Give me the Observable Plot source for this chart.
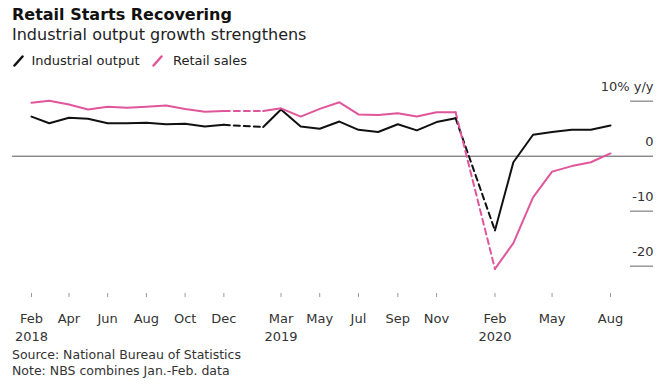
<!DOCTYPE html>
<html><head><meta charset="utf-8">
<script src="https://cdn.jsdelivr.net/npm/d3@7"></script>
<script src="https://cdn.jsdelivr.net/npm/@observablehq/plot@0.6"></script>
<style>
body{margin:0;background:#fff;font-family:"DejaVu Sans",sans-serif;}
#wrap{position:relative;width:670px;height:386px;overflow:hidden;background:#fff;}
.t{position:absolute;white-space:nowrap;line-height:1;}
</style></head><body>
<div id="wrap">
<div class="t" style="left:12px;top:7px;font-size:16px;font-weight:bold;color:#111">Retail Starts Recovering</div>
<div class="t" style="left:12px;top:26.5px;font-size:16px;color:#222">Industrial output growth strengthens</div>
<div id="legend"></div>
<div id="chart" style="position:absolute;left:0;top:70px"></div>
<div class="t" style="left:12px;top:349.4px;font-size:12.5px;color:#333">Source: National Bureau of Statistics</div>
<div class="t" style="left:12px;top:365.4px;font-size:12.5px;color:#333">Note: NBS combines Jan.-Feb. data</div>
</div>
<script>
const months = ["2018-02","2018-03","2018-04","2018-05","2018-06","2018-07","2018-08","2018-09","2018-10","2018-11","2018-12",
                "2019-02","2019-03","2019-04","2019-05","2019-06","2019-07","2019-08","2019-09","2019-10","2019-11","2019-12",
                "2020-02","2020-03","2020-04","2020-05","2020-06","2020-07","2020-08"];
const industrial = [7.2, 6.0, 7.0, 6.8, 6.0, 6.0, 6.1, 5.8, 5.9, 5.4, 5.7,
                    5.3, 8.5, 5.4, 5.0, 6.3, 4.8, 4.4, 5.8, 4.7, 6.2, 6.9,
                    -13.5, -1.1, 3.9, 4.4, 4.8, 4.8, 5.6];
const retail = [9.7, 10.1, 9.4, 8.5, 9.0, 8.8, 9.0, 9.2, 8.6, 8.1, 8.2,
                8.2, 8.7, 7.2, 8.6, 9.8, 7.6, 7.5, 7.8, 7.2, 8.0, 8.0,
                -20.5, -15.8, -7.5, -2.8, -1.8, -1.1, 0.5];
const seriesNames = ["Industrial output", "Retail sales"];
const seriesColors = ["#111111", "#e0569b"];
const tickMonths = ["2018-02","2018-04","2018-06","2018-08","2018-10","2018-12","2019-03","2019-05","2019-07","2019-09","2019-11","2020-02","2020-05","2020-08"];
const tickLabels = ["Feb\n2018","Apr","Jun","Aug","Oct","Dec","Mar\n2019","May","Jul","Sep","Nov","Feb\n2020","May","Aug"];
const yTicks = [10, 0, -10, -20];
const yTickLabels = ["10% y/y", "0", "-10", "-20"];

const parse = d3.utcParse("%Y-%m");
const tickDates = tickMonths.map(parse);
const rows = [];
[industrial, retail].forEach((vals, si) => {
  let seg = 0, prev = null;
  months.forEach((m, i) => {
    const date = parse(m);
    if (prev && d3.utcMonth.count(prev, date) > 1) seg++;
    rows.push({series: seriesNames[si], date, value: vals[i], seg: seriesNames[si] + seg});
    prev = date;
  });
});
const gaps = [];
seriesNames.forEach(s => {
  const r = rows.filter(d => d.series === s);
  for (let i = 1; i < r.length; i++) {
    if (d3.utcMonth.count(r[i-1].date, r[i].date) > 1) {
      gaps.push({...r[i-1], seg: s + "g" + i}, {...r[i], seg: s + "g" + i});
    }
  }
});

const plot = Plot.plot({
  width: 670, height: 275,
  marginLeft: 31, marginRight: 60, marginTop: 30.7, marginBottom: 79.3,
  x: {type: "utc", domain: [parse(months[0]), parse(months[months.length - 1])], axis: null},
  y: {domain: [-20, 10], axis: null},
  color: {domain: seriesNames, range: seriesColors},
  style: {fontFamily: "'DejaVu Sans', sans-serif", background: "transparent", overflow: "visible"},
  marks: [
    Plot.ruleY([0], {stroke: "#555", strokeWidth: 1, insetLeft: -19, insetRight: -43}),
    Plot.ruleY(yTicks.filter(v => v !== 0), {y: d => d, stroke: "#999", strokeWidth: 1.5, insetLeft: 599, insetRight: -43}),
    Plot.text(yTicks, {y: d => d, text: (d, i) => yTickLabels[i], frameAnchor: "right", textAnchor: "end", lineAnchor: "bottom", dx: 43, dy: -10.7, fontSize: 13, fill: "#333"}),
    Plot.tickX(tickDates, {x: d => d, insetTop: 192.3, insetBottom: -31.3, stroke: "#999"}),
    Plot.text(tickDates, {x: d => d, text: (d, i) => tickLabels[i], frameAnchor: "bottom", lineAnchor: "top", dy: 43.4, lineHeight: 1.415, fontSize: 13, fill: "#333"}),
    Plot.line(gaps, {x: "date", y: "value", z: "seg", stroke: "series", strokeWidth: 2, strokeDasharray: "6,4"}),
    Plot.line(rows, {x: "date", y: "value", z: "seg", stroke: "series", strokeWidth: 2})
  ]
});
document.getElementById("chart").appendChild(plot);

const legend = document.getElementById("legend");
const legendPos = [[13, 31.5], [152, 173]];
seriesNames.forEach((name, i) => {
  const [sx, tx] = legendPos[i];
  const ns = "http://www.w3.org/2000/svg";
  const svg = document.createElementNS(ns, "svg");
  svg.setAttribute("width", 12); svg.setAttribute("height", 12);
  svg.style.position = "absolute"; svg.style.left = sx + "px"; svg.style.top = "54.5px";
  const ln = document.createElementNS(ns, "line");
  ln.setAttribute("x1", 1.5); ln.setAttribute("y1", 10.5); ln.setAttribute("x2", 9.5); ln.setAttribute("y2", 1.5);
  ln.setAttribute("stroke", seriesColors[i]); ln.setAttribute("stroke-width", 2.5); ln.setAttribute("stroke-linecap", "round");
  svg.appendChild(ln);
  legend.appendChild(svg);
  const t = document.createElement("div");
  t.className = "t";
  t.style.cssText = `left:${tx}px;top:54px;font-size:13px;color:#222`;
  t.textContent = name;
  legend.appendChild(t);
});
</script>
</body></html>
